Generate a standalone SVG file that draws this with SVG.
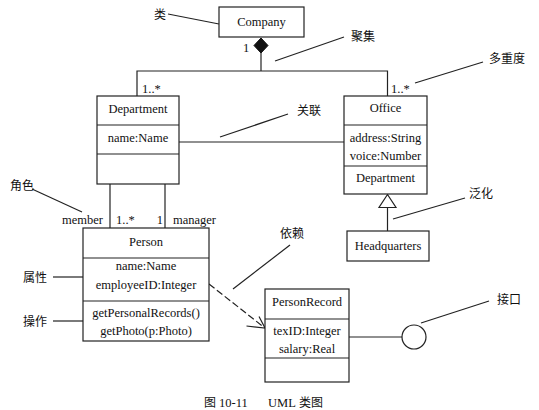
<svg xmlns="http://www.w3.org/2000/svg" width="539" height="410" viewBox="0 0 539 410">
<style>
.box{fill:#fff;stroke:#222;stroke-width:1.2}
.ln{fill:none;stroke:#222;stroke-width:1.2}
.t{font-family:"Liberation Serif","Times New Roman",serif;font-size:12.5px;fill:#111;text-anchor:middle}
.s{font-family:"Liberation Serif","Times New Roman",serif;font-size:12.5px;fill:#111}
.c{font-family:"Noto Sans CJK SC","Noto Sans",sans-serif;font-size:12px;fill:#111}
</style>
<rect width="539" height="410" fill="#fff"/>
<g id="connectors">
  <polygon points="261,38 268,45.5 261,53 254,45.5" fill="#111" stroke="#111" stroke-width="1"/>
  <polyline class="ln" points="261,53 261,71"/>
  <polyline class="ln" points="137,96 137,71 387.5,71 387.5,96"/>
  <line class="ln" x1="179" y1="142" x2="344" y2="142"/>
  <line class="ln" x1="387.5" y1="207.5" x2="387.5" y2="231"/>
  <polygon points="387.5,194.5 379,207.5 396,207.5" fill="#fff" stroke="#222" stroke-width="1.2"/>
  <line class="ln" x1="110" y1="184" x2="110" y2="228"/>
  <line class="ln" x1="165" y1="184" x2="165" y2="228"/>
  <line class="ln" x1="209" y1="284" x2="264" y2="327.3" stroke-dasharray="7,3"/>
  <polyline class="ln" points="259,316.5 265,328 246.5,326"/>
  <line class="ln" x1="349" y1="337" x2="402" y2="337"/>
  <circle cx="414" cy="337" r="12" fill="#fff" stroke="#222" stroke-width="1.2"/>
  <text class="s" x="243" y="52">1</text>
  <text class="s" x="142" y="93">1..*</text>
  <text class="s" x="391" y="93">1..*</text>
  <text class="s" x="103" y="224" text-anchor="end">member</text>
  <text class="s" x="116" y="224">1..*</text>
  <text class="s" x="163" y="224" text-anchor="end">1</text>
  <text class="s" x="173" y="224">manager</text>
</g>
<g id="company">
  <rect class="box" x="219" y="7" width="85" height="30"/>
  <text class="t" x="261.5" y="26">Company</text>
</g>
<g id="department">
  <rect class="box" x="97" y="96" width="82" height="88"/>
  <line class="ln" x1="97" y1="125" x2="179" y2="125"/>
  <line class="ln" x1="97" y1="154" x2="179" y2="154"/>
  <text class="t" x="138" y="113">Department</text>
  <text class="t" x="138" y="142">name:Name</text>
</g>
<g id="office">
  <rect class="box" x="344" y="96" width="83" height="98"/>
  <line class="ln" x1="344" y1="125" x2="427" y2="125"/>
  <line class="ln" x1="344" y1="166" x2="427" y2="166"/>
  <text class="t" x="385.5" y="112">Office</text>
  <text class="t" x="385.5" y="142">address:String</text>
  <text class="t" x="385.5" y="160">voice:Number</text>
  <text class="t" x="385.5" y="182">Department</text>
</g>
<g id="headquarters">
  <rect class="box" x="347" y="231" width="82" height="30"/>
  <text class="t" x="388" y="250">Headquarters</text>
</g>
<g id="person">
  <rect class="box" x="83" y="228" width="126" height="113"/>
  <line class="ln" x1="83" y1="258" x2="209" y2="258"/>
  <line class="ln" x1="83" y1="301" x2="209" y2="301"/>
  <text class="t" x="146" y="246">Person</text>
  <text class="t" x="146" y="270">name:Name</text>
  <text class="t" x="146" y="289">employeeID:Integer</text>
  <text class="t" x="146" y="317">getPersonalRecords()</text>
  <text class="t" x="146" y="335">getPhoto(p:Photo)</text>
</g>
<g id="personrecord">
  <rect class="box" x="265" y="289" width="84" height="93"/>
  <line class="ln" x1="265" y1="319" x2="349" y2="319"/>
  <line class="ln" x1="265" y1="358" x2="349" y2="358"/>
  <text class="t" x="307" y="306">PersonRecord</text>
  <text class="t" x="307" y="335">texID:Integer</text>
  <text class="t" x="307" y="353">salary:Real</text>
</g>
<g id="annotations">
  <text class="c" x="154" y="19">类</text>
  <line class="ln" x1="168" y1="14" x2="219" y2="24"/>
  <text class="c" x="351" y="41">聚集</text>
  <line class="ln" x1="344" y1="37" x2="275" y2="61"/>
  <text class="c" x="489" y="63">多重度</text>
  <line class="ln" x1="483" y1="62" x2="415" y2="83"/>
  <text class="c" x="297" y="115">关联</text>
  <line class="ln" x1="288" y1="114" x2="220" y2="137"/>
  <text class="c" x="10" y="190">角色</text>
  <line class="ln" x1="32" y1="189" x2="82" y2="212"/>
  <text class="c" x="469" y="198">泛化</text>
  <line class="ln" x1="465" y1="198" x2="393" y2="219"/>
  <text class="c" x="280" y="238">依赖</text>
  <line class="ln" x1="290" y1="245" x2="233" y2="289"/>
  <text class="c" x="23" y="282">属性</text>
  <line class="ln" x1="53" y1="277" x2="83" y2="277"/>
  <text class="c" x="23" y="326">操作</text>
  <line class="ln" x1="53" y1="321" x2="83" y2="321"/>
  <text class="c" x="497" y="304">接口</text>
  <line class="ln" x1="489" y1="301" x2="421" y2="323"/>
</g>
<g id="caption">
  <text class="c" x="204" y="407" font-size="11">图</text>
  <text class="s" x="219" y="407" font-size="12">10-11</text>
  <text class="s" x="268" y="407" font-size="12">UML</text>
  <text class="c" x="299" y="407" font-size="10.5">类图</text>
</g>
</svg>
